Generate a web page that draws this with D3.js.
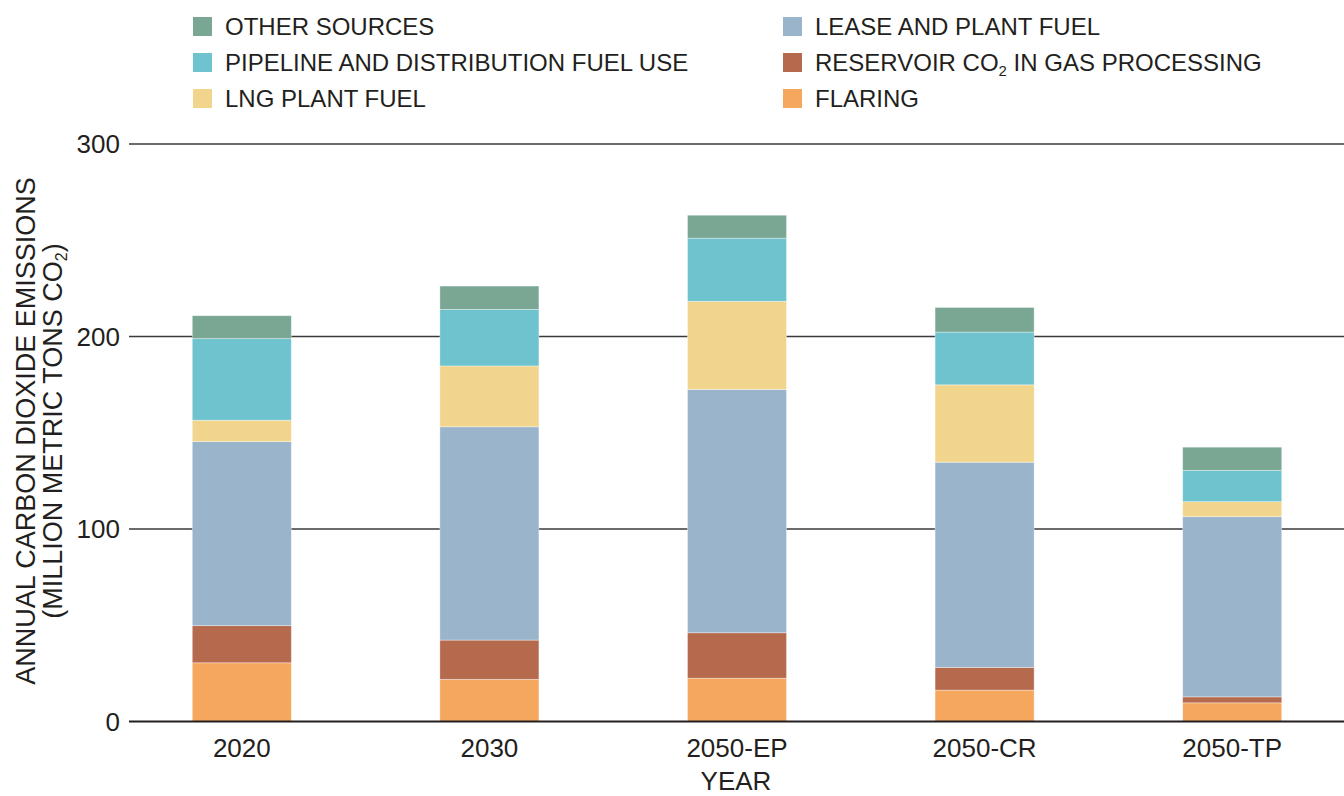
<html>
<script src='https://d3js.org/d3.v7.min.js'></script>
<style> body {
  margin: 0;
  background-color: #ffffff;
}
svg text {
  font-family: "Liberation Sans", Arial, sans-serif;
  fill: #231F20;
}
</style>
<body>
<script>
// chart values (million metric tons CO2)
var years = ["2020", "2030", "2050-EP", "2050-CR", "2050-TP"];
var sources = ["FLARING", "RESERVOIR", "LEASE", "LNG", "PIPELINE", "OTHER"];
var flaring   = [30.5, 21.9, 22.5, 16.3, 9.7];
var reservoir = [19.3, 20.4, 23.6, 11.8, 3.1];
var lease     = [95.6, 110.8, 126.4, 106.6, 93.6];
var lng       = [11.1, 31.6, 45.8, 40.2, 7.8];
var pipeline  = [42.4, 29.4, 32.8, 27.4, 16.3];
var other     = [11.9, 12.1, 11.9, 12.8, 12.0];
var yTicks = [0, 100, 200, 300];

var colors = {
  OTHER: "#79A794",
  PIPELINE: "#6FC3CE",
  LNG: "#F2D58D",
  LEASE: "#9AB4CC",
  RESERVOIR: "#B5694D",
  FLARING: "#F6A75E"
};

// legend layout: two columns, three rows
var legendItems = [
  {key: "OTHER", label: "OTHER SOURCES", col: 0, row: 0},
  {key: "PIPELINE", label: "PIPELINE AND DISTRIBUTION FUEL USE", col: 0, row: 1},
  {key: "LNG", label: "LNG PLANT FUEL", col: 0, row: 2},
  {key: "LEASE", label: "LEASE AND PLANT FUEL", col: 1, row: 0},
  {key: "RESERVOIR", label: "RESERVOIR CO", sub: "2", tail: " IN GAS PROCESSING", col: 1, row: 1},
  {key: "FLARING", label: "FLARING", col: 1, row: 2}
];

var width = 1344, height = 796;

var table = years.map(function(y, i) {
  return {
    year: y,
    FLARING: flaring[i],
    RESERVOIR: reservoir[i],
    LEASE: lease[i],
    LNG: lng[i],
    PIPELINE: pipeline[i],
    OTHER: other[i]
  };
});

var x = d3.scaleBand().domain(years).range([118, 1356])
  .paddingInner(0.6).paddingOuter(0.3);
var y = d3.scaleLinear().domain([0, 300]).range([721.5, 144]);

var svg = d3.select("body").append("svg")
  .attr("width", width)
  .attr("height", height);

// gridlines
svg.append("g").selectAll("line")
  .data(yTicks.filter(function(d) { return d > 0; }))
  .enter().append("line")
  .attr("x1", 129).attr("x2", width)
  .attr("y1", function(d) { return y(d); })
  .attr("y2", function(d) { return y(d); })
  .attr("stroke", "#3a3a3a")
  .attr("stroke-width", 1.3);

// y tick labels
svg.append("g").selectAll("text")
  .data(yTicks)
  .enter().append("text")
  .attr("x", 120)
  .attr("y", function(d) { return y(d); })
  .attr("dy", "0.35em")
  .attr("text-anchor", "end")
  .style("font-size", "26px")
  .text(function(d) { return d; });

// stacked bars
var stack = d3.stack().keys(sources)(table);

svg.append("g").selectAll("g")
  .data(stack)
  .enter().append("g")
  .attr("fill", function(d) { return colors[d.key]; })
  .selectAll("rect")
  .data(function(d) { return d; })
  .enter().append("rect")
  .attr("x", function(d) { return x(d.data.year); })
  .attr("width", x.bandwidth())
  .attr("y", function(d) { return y(d[1]); })
  .attr("height", function(d) { return y(d[0]) - y(d[1]); })
  .attr("stroke", "#ffffff")
  .attr("stroke-opacity", 0.45)
  .attr("stroke-width", 0.8);

// baseline
svg.append("line")
  .attr("x1", 129).attr("x2", width)
  .attr("y1", y(0)).attr("y2", y(0))
  .attr("stroke", "#231F20")
  .attr("stroke-width", 2);

// x labels
var xAxis = svg.append("g")
  .attr("transform", "translate(0," + y(0) + ")")
  .call(d3.axisBottom(x).tickSize(0).tickPadding(16));
xAxis.select(".domain").remove();
xAxis.selectAll("text")
  .attr("y", 0)
  .attr("dy", 35.5)
  .style("font-size", "26px")
  .style("font-family", "Liberation Sans, Arial, sans-serif")
  .attr("fill", "#231F20");

svg.append("text")
  .attr("x", 736)
  .attr("y", 790)
  .attr("text-anchor", "middle")
  .style("font-size", "26px")
  .text("YEAR");

// y title, two lines
var yt = svg.append("g")
  .attr("transform", "translate(0,431) rotate(-90)");
yt.append("text")
  .attr("x", 0).attr("y", 35)
  .attr("text-anchor", "middle")
  .style("font-size", "27px")
  .text("ANNUAL CARBON DIOXIDE EMISSIONS");
var t2 = yt.append("text")
  .attr("x", 0).attr("y", 62)
  .attr("text-anchor", "middle")
  .style("font-size", "27px");
t2.append("tspan").text("(MILLION METRIC TONS CO");
t2.append("tspan").attr("dy", 5).style("font-size", "16px").text("2");
t2.append("tspan").attr("dy", -5).text(")");

// legend
var legend = svg.append("g").selectAll("g")
  .data(legendItems)
  .enter().append("g")
  .attr("transform", function(d) {
    return "translate(" + (d.col ? 783 : 193) + "," + (17 + d.row * 36) + ")";
  });

legend.append("rect")
  .attr("width", 19).attr("height", 19)
  .attr("fill", function(d) { return colors[d.key]; });

var lt = legend.append("text")
  .attr("x", 32)
  .attr("y", 9.5)
  .attr("dy", "0.35em")
  .style("font-size", "24px");
lt.append("tspan").text(function(d) { return d.label; });
lt.filter(function(d) { return d.sub; }).each(function(d) {
  var t = d3.select(this);
  t.append("tspan").attr("dy", 5).style("font-size", "15px").text(d.sub);
  t.append("tspan").attr("dy", -5).text(d.tail);
});
</script>
</body>
</html>
